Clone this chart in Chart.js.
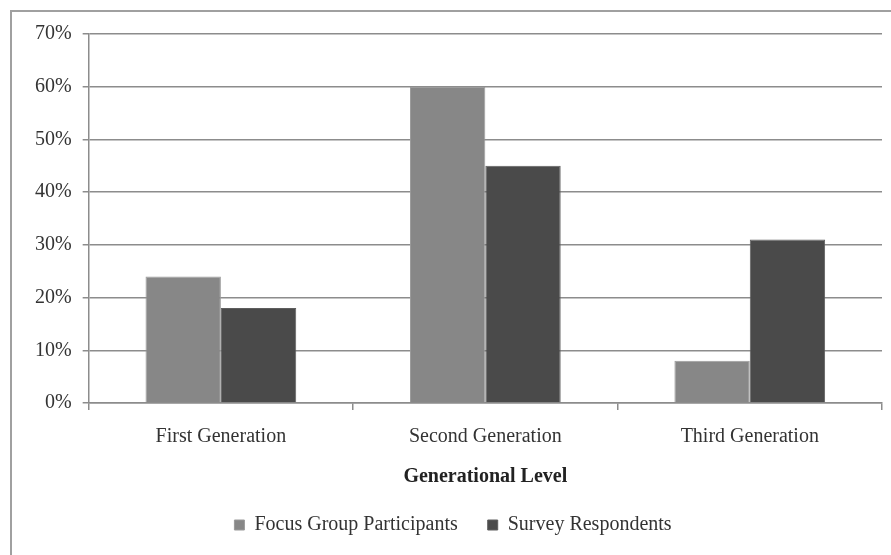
<!DOCTYPE html>
<html>
<head>
<meta charset="utf-8">
<script src="https://cdn.jsdelivr.net/npm/chart.js@4"></script>
<style>
  html, body { margin: 0; padding: 0; background: #fff; }
  #wrap { position: relative; width: 891px; height: 555px; overflow: hidden; }
  #frame { position: absolute; left: 10px; top: 10px; width: 900px; height: 600px;
           border-left: 2px solid #a0a0a0; border-top: 2px solid #a0a0a0; }
  canvas { position: absolute; left: 0; top: 0; }
</style>
</head>
<body>
<div id="wrap">
  <div id="frame"></div>
  <canvas id="genChart" width="891" height="555"></canvas>
</div>
<script>
// Generational level data
const categories = ['First Generation', 'Second Generation', 'Third Generation'];
const focusGroup = [24, 60, 8];
const surveyResp = [18, 45, 31];
const yTicks = [0, 10, 20, 30, 40, 50, 60, 70];

const serif = '"Liberation Serif", "DejaVu Serif", serif';
const axisGray = '#8c8c8c';

const ctx = document.getElementById('genChart').getContext('2d');
const genChart = new Chart(ctx, {
  type: 'bar',
  data: {
    labels: categories,
    datasets: [{
      label: 'Focus Group Participants',
      data: focusGroup,
      backgroundColor: '#878787',
      borderColor: '#9a9a9a',
      borderWidth: 1,
      categoryPercentage: 0.57,
      barPercentage: 1.0
    }, {
      label: 'Survey Respondents',
      data: surveyResp,
      backgroundColor: '#4a4a4a',
      borderColor: '#5e5e5e',
      borderWidth: 1,
      categoryPercentage: 0.57,
      barPercentage: 1.0
    }]
  },
  options: {
    responsive: false,
    animation: false,
    layout: { padding: { left: 24, right: 9, top: 34, bottom: 10 } },
    plugins: {
      legend: {
        position: 'bottom',
        labels: {
          font: { family: serif, size: 20 },
          color: '#333',
          boxWidth: 10,
          boxHeight: 10,
          padding: 30
        }
      },
      tooltip: { enabled: false }
    },
    scales: {
      x: {
        grid: {
          display: true,
          drawOnChartArea: false,
          drawTicks: true,
          tickLength: 7,
          offset: true,
          color: axisGray,
          lineWidth: 1.5
        },
        border: { color: axisGray, width: 1.5 },
        ticks: {
          font: { family: serif, size: 20 },
          color: '#333',
          padding: 15
        },
        title: {
          display: true,
          text: 'Generational Level',
          font: { family: serif, size: 20, weight: 'bold' },
          color: '#222',
          padding: { top: 1, bottom: -4 }
        }
      },
      y: {
        min: 0,
        max: 70,
        afterBuildTicks: axis => { axis.ticks = yTicks.map(v => ({ value: v })); },
        grid: {
          color: axisGray,
          lineWidth: 1.5,
          tickLength: 6
        },
        border: { color: axisGray, width: 1.5 },
        ticks: {
          font: { family: serif, size: 20 },
          color: '#333',
          padding: 11,
          callback: v => v + '%'
        }
      }
    }
  }
});
</script>
</body>
</html>
